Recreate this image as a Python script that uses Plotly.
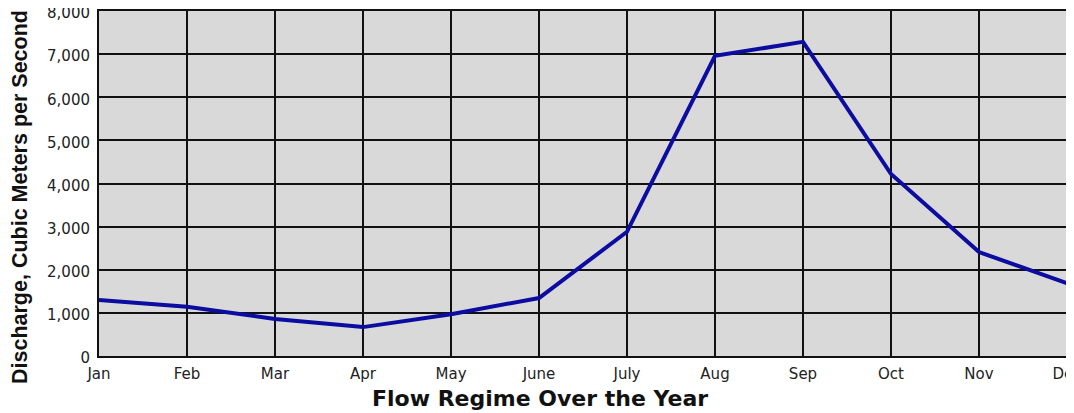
import plotly.graph_objects as go

months = ["Jan", "Feb", "Mar", "Apr", "May", "June", "July", "Aug", "Sep", "Oct", "Nov", "Dec"]
discharge = [1300, 1140, 860, 670, 970, 1345, 2880, 6960, 7285, 4220, 2410, 1690]
y_ticks = [0, 1000, 2000, 3000, 4000, 5000, 6000, 7000, 8000]
y_ticktext = ["0", "1,000", "2,000", "3,000", "4,000", "5,000", "6,000", "7,000", "8,000"]
x_title = "Flow Regime Over the Year"
y_title = "Discharge, Cubic Meters per Second"

# the page body has an 8px margin, so the figure is sized to fit the window
OFF = 8
fig = go.Figure()
fig.add_trace(go.Scatter(
    x=list(range(len(months))), y=discharge, mode="lines",
    line=dict(color="#0c0ca0", width=4), hoverinfo="skip", showlegend=False,
))

tick_font = dict(family="DejaVu Sans, sans-serif", size=15, color="#222")
fig.update_layout(
    width=1074 - OFF, height=413 - OFF,
    margin=dict(l=99 - OFF, r=7, t=11 - OFF, b=57, autoexpand=False),
    paper_bgcolor="white",
    plot_bgcolor="#d9d9d9",
    font=dict(family="Liberation Sans, Arial, sans-serif", color="#222"),
    xaxis=dict(
        range=[0, 11], tickvals=list(range(len(months))), ticktext=months,
        showgrid=True, gridcolor="#111", gridwidth=2,
        showline=True, linecolor="#111", linewidth=2, mirror=True,
        zeroline=False, ticks="outside", ticklen=3, tickcolor="rgba(0,0,0,0)",
        tickfont=tick_font, automargin=False, ticklabeloverflow="allow",
    ),
    yaxis=dict(
        range=[0, 8000], tickvals=y_ticks, ticktext=y_ticktext,
        showgrid=True, gridcolor="#111", gridwidth=2,
        showline=True, linecolor="#111", linewidth=2, mirror=True,
        zeroline=False, ticks="outside", ticklen=4, tickcolor="rgba(0,0,0,0)",
        tickfont=tick_font, automargin=False, ticklabeloverflow="allow",
        ticklabelshift=2,
    ),
    annotations=[
        dict(text="<b>" + x_title + "</b>", xref="paper", yref="paper",
             x=(540 - 99) / 968, y=0, yshift=-42, xanchor="center", yanchor="middle",
             showarrow=False, font=dict(family="DejaVu Sans, sans-serif", size=22, color="#111")),
        dict(text="<b>" + y_title + "</b>", xref="paper", yref="paper",
             x=0, xshift=-79, y=(356 - 197) / 345, xanchor="center", yanchor="middle",
             textangle=-90, showarrow=False,
             font=dict(family="Liberation Sans, Arial, sans-serif", size=21.5, color="#111")),
    ],
)

fig.write_html("out.html")
